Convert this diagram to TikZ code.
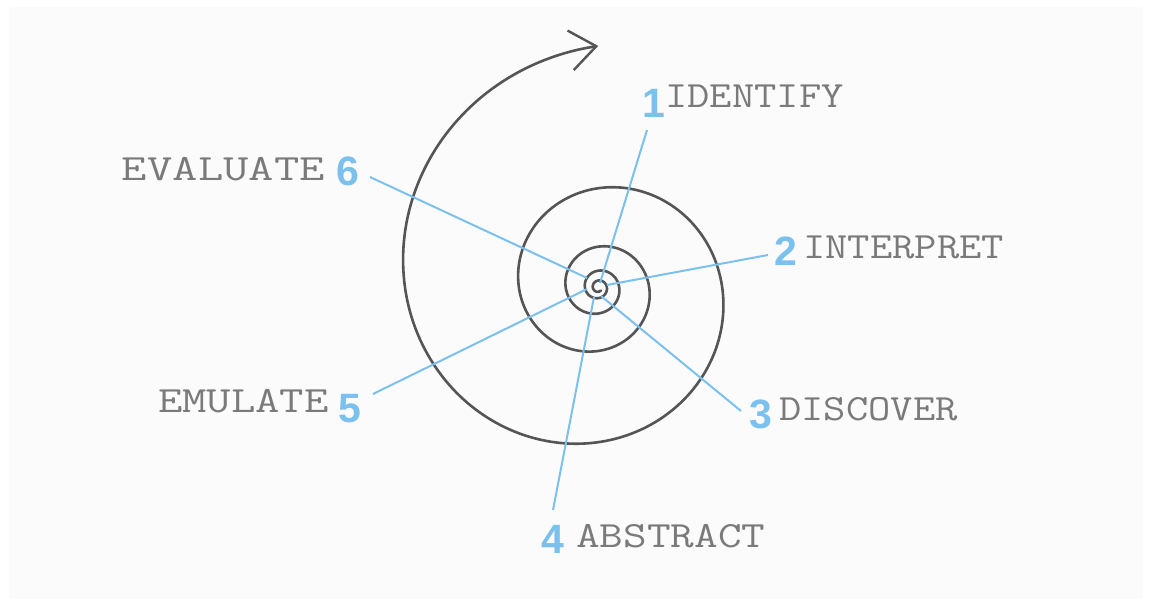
\documentclass[tikz,border=0pt]{standalone}
\usepackage{fontspec}
\newfontfamily\numfont{Liberation Sans}
\usetikzlibrary{arrows.meta}
\definecolor{bgc}{HTML}{FBFBFB}
\definecolor{spir}{HTML}{555555}
\definecolor{sky}{HTML}{7CC0EE}
\definecolor{txt}{HTML}{7A7A7A}
\tikzset{
  num/.style={inner sep=0pt, anchor=base, text=sky, font=\numfont\bfseries\fontsize{41}{41}\selectfont},
  lbl/.style={inner sep=0pt, text=txt, font=\ttfamily\fontsize{37}{37}\selectfont},
  lblR/.style={lbl, anchor=base west},
  lblL/.style={lbl, anchor=base east},
  ray/.style={draw=sky, line width=2pt},
  spiral/.style={draw=spir, line width=2.6pt, line cap=round, line join=round}
}
\begin{document}
\begin{tikzpicture}[x=1pt,y=-1pt]
\useasboundingbox (0,0) rectangle (1151,607);
\fill[white] (0,0) rectangle (1151,607);
\fill[bgc] (9,7) rectangle (1143,599);
% spiral
\draw[spiral, -{Straight Barb[length=26pt,width=40pt,line width=2.4pt]}]
  plot[domain=1750:90, samples=1000, variable=\t]
  ({598.3+193.3*exp(-0.0024793*(\t-180))*cos(\t)},
   {287.4-193.3*exp(-0.0024793*(\t-180))*sin(\t)});
% ray end points
\coordinate (e1) at (647,130); \coordinate (s1) at (600,283);
\coordinate (e2) at (768,255); \coordinate (s2) at (607,285);
\coordinate (e3) at (741,411); \coordinate (s3) at (601,296);
\coordinate (e4) at (553,510); \coordinate (s4) at (594,297);
\coordinate (e5) at (373,394); \coordinate (s5) at (587,289);
\coordinate (e6) at (370,177); \coordinate (s6) at (587,278);
\draw[ray] (e1) -- (s1);
\draw[ray] (e2) -- (s2);
\draw[ray] (e3) -- (s3);
\draw[ray] (e4) -- (s4);
\draw[ray] (e5) -- (s5);
\draw[ray] (e6) -- (s6);
% numbers
\node[num] (n1) at (654,118) {1};
\node[num] (n2) at (786,265) {2};
\node[num] (n3) at (761,428) {3};
\node[num] (n4) at (553,553) {4};
\node[num] (n5) at (350,422) {5};
\node[num] (n6) at (348,185) {6};
% labels
\node[lblR, xscale=1.17] (t1) at (665,108) {IDENTIFY};
\node[lblR, xscale=1.17] (t2) at (803,258) {INTERPRET};
\node[lblR, xscale=1.17] (t3) at (779,420) {DISCOVER};
\node[lblR, xscale=1.24] (t4) at (576,547) {ABSTRACT};
\node[lblL, xscale=1.28] (t5) at (329,412) {EMULATE};
\node[lblL, xscale=1.33] (t6) at (325,180) {EVALUATE};
\end{tikzpicture}
\end{document}
